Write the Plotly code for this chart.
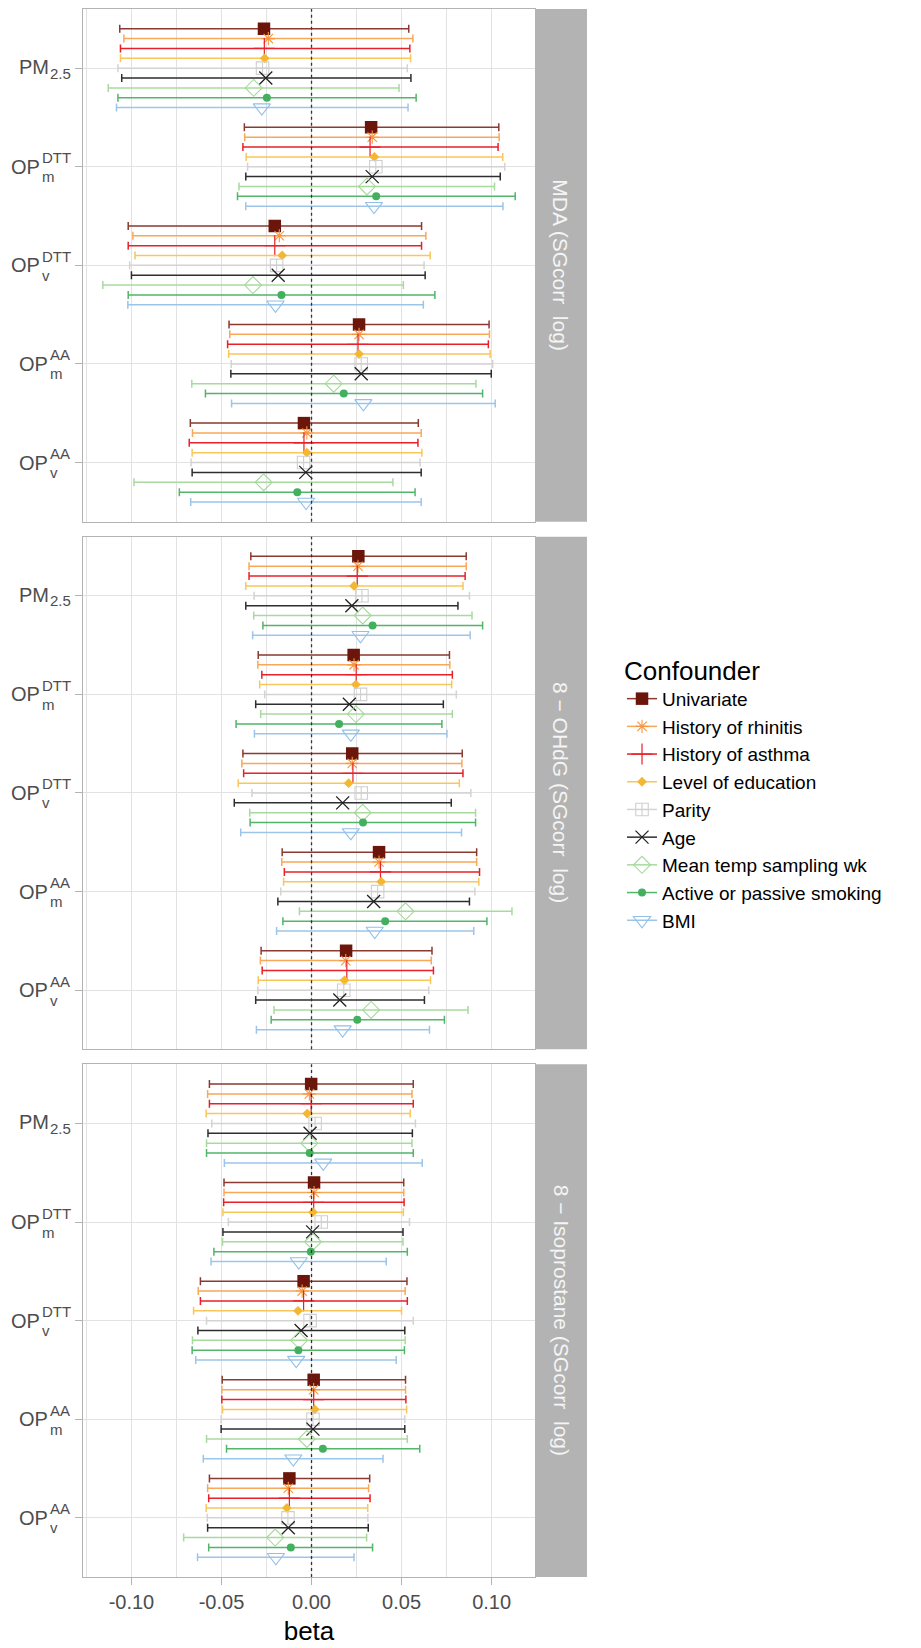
import plotly.graph_objects as go

# ---------------- data ----------------
exposures = ["PM2.5", "OPm DTT", "OPv DTT", "OPm AA", "OPv AA"]
label_main = ["PM", "OP", "OP", "OP", "OP"]
label_sub = ["2.5", "m", "v", "m", "v"]
label_sup = ["", "DTT", "DTT", "AA", "AA"]
outcomes = ["MDA (SGcorr\u00a0\u00a0log)",
            "8 \u2212 OHdG (SGcorr\u00a0\u00a0log)",
            "8 \u2212 Isoprostane (SGcorr\u00a0\u00a0log)"]
confounders = ["Univariate", "History of rhinitis", "History of asthma",
               "Level of education", "Parity", "Age",
               "Mean temp sampling wk", "Active or passive smoking", "BMI"]
x_tickvals = [-0.10, -0.05, 0.0, 0.05, 0.10]
x_ticktext = ["-0.10", "-0.05", "0.00", "0.05", "0.10"]
x_minor = [-0.125, -0.075, -0.025, 0.025, 0.075, 0.125]

# rows = exposures, columns = confounders
mda_est = [
    [-0.0264, -0.0240, -0.0262, -0.0260, -0.0272, -0.0254, -0.0321, -0.0248, -0.0276],
    [0.0331, 0.0337, 0.0325, 0.0349, 0.0357, 0.0337, 0.0308, 0.0359, 0.0347],
    [-0.0204, -0.0179, -0.0204, -0.0163, -0.0194, -0.0185, -0.0325, -0.0167, -0.0200],
    [0.0264, 0.0264, 0.0258, 0.0264, 0.0276, 0.0276, 0.0123, 0.0179, 0.0288],
    [-0.0042, -0.0026, -0.0042, -0.0026, -0.0044, -0.0032, -0.0266, -0.0079, -0.0030],
]
mda_lo = [
    [-0.1065, -0.1042, -0.1061, -0.1061, -0.1075, -0.1054, -0.1129, -0.1075, -0.1083],
    [-0.0373, -0.0371, -0.0381, -0.0363, -0.0355, -0.0365, -0.0403, -0.0411, -0.0365],
    [-0.1018, -0.0992, -0.1018, -0.0980, -0.1010, -0.1000, -0.1159, -0.1018, -0.1020],
    [-0.0458, -0.0454, -0.0466, -0.0460, -0.0446, -0.0448, -0.0665, -0.0589, -0.0444],
    [-0.0673, -0.0661, -0.0679, -0.0663, -0.0669, -0.0663, -0.0986, -0.0734, -0.0671],
]
mda_hi = [
    [0.0540, 0.0563, 0.0546, 0.0550, 0.0532, 0.0552, 0.0486, 0.0581, 0.0536],
    [0.1040, 0.1042, 0.1036, 0.1062, 0.1073, 0.1048, 0.1016, 0.1131, 0.1063],
    [0.0611, 0.0635, 0.0611, 0.0659, 0.0625, 0.0631, 0.0510, 0.0685, 0.0621],
    [0.0986, 0.0988, 0.0982, 0.0992, 0.1006, 0.0998, 0.0913, 0.0950, 0.1020],
    [0.0593, 0.0609, 0.0591, 0.0613, 0.0603, 0.0609, 0.0452, 0.0575, 0.0609],
]
ohdg_est = [
    [0.0260, 0.0258, 0.0254, 0.0236, 0.0280, 0.0224, 0.0284, 0.0339, 0.0272],
    [0.0234, 0.0236, 0.0248, 0.0246, 0.0272, 0.0210, 0.0246, 0.0153, 0.0218],
    [0.0226, 0.0226, 0.0230, 0.0206, 0.0276, 0.0173, 0.0284, 0.0286, 0.0218],
    [0.0375, 0.0375, 0.0383, 0.0387, 0.0367, 0.0345, 0.0522, 0.0409, 0.0351],
    [0.0192, 0.0190, 0.0196, 0.0183, 0.0179, 0.0157, 0.0331, 0.0254, 0.0173],
]
ohdg_lo = [
    [-0.0337, -0.0347, -0.0347, -0.0365, -0.0319, -0.0365, -0.0321, -0.0270, -0.0327],
    [-0.0296, -0.0298, -0.0276, -0.0288, -0.0260, -0.0310, -0.0282, -0.0419, -0.0317],
    [-0.0381, -0.0387, -0.0377, -0.0407, -0.0331, -0.0429, -0.0343, -0.0341, -0.0393],
    [-0.0163, -0.0165, -0.0151, -0.0155, -0.0171, -0.0187, -0.0067, -0.0159, -0.0194],
    [-0.0280, -0.0284, -0.0274, -0.0296, -0.0298, -0.0310, -0.0208, -0.0224, -0.0306],
]
ohdg_hi = [
    [0.0859, 0.0859, 0.0853, 0.0841, 0.0877, 0.0813, 0.0891, 0.0950, 0.0881],
    [0.0766, 0.0768, 0.0782, 0.0778, 0.0804, 0.0732, 0.0782, 0.0724, 0.0752],
    [0.0837, 0.0835, 0.0841, 0.0821, 0.0885, 0.0776, 0.0911, 0.0911, 0.0833],
    [0.0917, 0.0917, 0.0933, 0.0929, 0.0907, 0.0877, 0.1113, 0.0974, 0.0901],
    [0.0669, 0.0665, 0.0677, 0.0661, 0.0651, 0.0627, 0.0869, 0.0738, 0.0655],
]
iso_est = [
    [-0.0002, -0.0012, -0.0002, -0.0024, 0.0020, -0.0008, -0.0012, -0.0010, 0.0065],
    [0.0014, 0.0014, 0.0012, 0.0008, 0.0054, 0.0006, 0.0008, -0.0004, -0.0071],
    [-0.0044, -0.0052, -0.0044, -0.0075, -0.0008, -0.0058, -0.0069, -0.0073, -0.0085],
    [0.0012, 0.0012, 0.0012, 0.0018, 0.0008, 0.0008, -0.0026, 0.0063, -0.0101],
    [-0.0123, -0.0129, -0.0123, -0.0137, -0.0131, -0.0129, -0.0202, -0.0115, -0.0198],
]
iso_lo = [
    [-0.0567, -0.0577, -0.0567, -0.0585, -0.0554, -0.0575, -0.0583, -0.0583, -0.0484],
    [-0.0486, -0.0486, -0.0488, -0.0492, -0.0462, -0.0492, -0.0494, -0.0542, -0.0558],
    [-0.0617, -0.0629, -0.0617, -0.0655, -0.0583, -0.0631, -0.0661, -0.0663, -0.0643],
    [-0.0496, -0.0498, -0.0498, -0.0494, -0.0502, -0.0502, -0.0583, -0.0472, -0.0601],
    [-0.0567, -0.0577, -0.0571, -0.0585, -0.0579, -0.0577, -0.0710, -0.0571, -0.0633],
]
iso_hi = [
    [0.0565, 0.0558, 0.0565, 0.0548, 0.0577, 0.0560, 0.0558, 0.0565, 0.0615],
    [0.0512, 0.0512, 0.0514, 0.0510, 0.0544, 0.0508, 0.0508, 0.0532, 0.0415],
    [0.0530, 0.0520, 0.0532, 0.0500, 0.0565, 0.0518, 0.0520, 0.0516, 0.0470],
    [0.0522, 0.0522, 0.0524, 0.0528, 0.0518, 0.0518, 0.0532, 0.0601, 0.0397],
    [0.0323, 0.0317, 0.0325, 0.0312, 0.0313, 0.0315, 0.0306, 0.0339, 0.0236],
]

panels = [(mda_est, mda_lo, mda_hi), (ohdg_est, ohdg_lo, ohdg_hi), (iso_est, iso_lo, iso_hi)]

# ---------------- styles ----------------
styles = {
    "Univariate": dict(symbol="square", size=12.5, color="#6B150B", bar="#8A3A30", lw=0),
    "History of rhinitis": dict(symbol="asterisk-open", size=11, color="#F7963E", bar="#F8A858", lw=1.1),
    "History of asthma": dict(symbol="cross-thin-open", size=15, color="#E8202A", bar="#E8202A", lw=1.2),
    "Level of education": dict(symbol="diamond", size=7.5, color="#F4B731", bar="#F9C65A", lw=0),
    "Parity": dict(symbol="square-cross-open", size=12.5, color="#CFCFCF", bar="#D3D3D3", lw=1.1),
    "Age": dict(symbol="x-thin-open", size=13, color="#222222", bar="#2E2E2E", lw=1.3),
    "Mean temp sampling wk": dict(symbol="diamond-open", size=13, color="#A4D99A", bar="#A8DA9E", lw=1.1),
    "Active or passive smoking": dict(symbol="circle", size=8, color="#43B05E", bar="#52B56A", lw=0),
    "BMI": dict(symbol="triangle-down-open", size=15, color="#92C0E8", bar="#9CC5E9", lw=1.1),
}

fig = go.Figure()
n_exp = len(exposures)
axis_suffix = ["", "2", "3"]

for p, (est, lo, hi) in enumerate(panels):
    for k, conf in enumerate(confounders):
        st = styles[conf]
        xs, ys, ep, em = [], [], [], []
        for i in range(n_exp):
            cat = n_exp - i
            e = est[i][k]
            xs += [e, None]
            ys += [cat + 0.4 - 0.1 * k, None]
            ep += [hi[i][k] - e, 0]
            em += [e - lo[i][k], 0]
        fig.add_trace(go.Scatter(
            x=xs, y=ys, mode="lines+markers", connectgaps=False,
            name=conf, legendgroup=conf, showlegend=(p == 0),
            line=dict(color=st["bar"], width=1.5),
            marker=dict(symbol=st["symbol"], size=st["size"], color=st["color"],
                        line=dict(color=st["color"], width=st["lw"])),
            error_x=dict(type="data", symmetric=False, array=ep, arrayminus=em,
                         color=st["bar"], thickness=1.5, width=4),
            xaxis="x" + axis_suffix[p], yaxis="y" + axis_suffix[p],
        ))

# ---------------- layout ----------------
grid_c = "#E2E2E2"
border_c = "#B3B3B3"
domains = [[0.67302, 1.0], [0.33651, 0.66349], [0.0, 0.32698]]

layout = dict(
    width=921, height=1648,
    margin=dict(l=83, r=386, t=8, b=65),
    paper_bgcolor="white", plot_bgcolor="white",
    font=dict(family="Liberation Sans, Arial, sans-serif", color="#4D4D4D"),
    showlegend=True,
    legend=dict(
        title=dict(text="Confounder", font=dict(size=26, color="black")),
        font=dict(size=19, color="black"),
        x=1.1925, xanchor="left", y=0.5, yanchor="middle",
        bgcolor="rgba(0,0,0,0)", traceorder="normal",
    ),
)

for p in range(3):
    s = axis_suffix[p]
    last = (p == 2)
    xa = dict(
        domain=[0, 1], anchor="y" + s, range=[-0.1269, 0.1241],
        tickvals=x_tickvals, ticktext=x_ticktext,
        showticklabels=last, ticks="outside" if last else "",
        ticklen=7, tickwidth=1, tickcolor=border_c,
        tickfont=dict(size=20, color="#4D4D4D"),
        showgrid=True, gridcolor=grid_c, gridwidth=1.2,
        minor=dict(tickvals=x_minor, showgrid=True, gridcolor=grid_c, gridwidth=0.7, ticks=""),
        zeroline=False, showline=True, mirror=True, linecolor=border_c, linewidth=1,
    )
    if p > 0:
        xa["matches"] = "x"
    if last:
        xa["title"] = dict(text="beta", font=dict(size=26, color="black"), standoff=9)
    ya = dict(
        domain=domains[p], anchor="x" + s, range=[0.4, 5.6],
        tickvals=[1, 2, 3, 4, 5], showticklabels=False,
        ticks="outside", ticklen=7, tickwidth=1, tickcolor=border_c,
        showgrid=True, gridcolor=grid_c, gridwidth=1.2,
        zeroline=False, showline=True, mirror=True, linecolor=border_c, linewidth=1,
    )
    layout["xaxis" + s] = xa
    layout["yaxis" + s] = ya

fig.update_layout(**layout)

shapes = []
annotations = []
for p in range(3):
    s = axis_suffix[p]
    # strip
    shapes.append(dict(type="rect", xref="paper", yref="y" + s + " domain",
                       x0=1.0, x1=1.1150, y0=0, y1=1,
                       fillcolor="#B3B3B3", line=dict(width=0), layer="above"))
    annotations.append(dict(text=outcomes[p], xref="paper", yref="y" + s + " domain",
                            x=1.0575, y=0.5, textangle=90, showarrow=False,
                            font=dict(size=21, color="#F5F5F5"),
                            xanchor="center", yanchor="middle"))
    # zero line
    shapes.append(dict(type="line", xref="x" + s, yref="y" + s + " domain",
                       x0=0, x1=0, y0=0, y1=1,
                       line=dict(color="#333333", width=1.3, dash="dot"), layer="above"))
    # y labels
    for i in range(n_exp):
        cat = n_exp - i
        if label_sup[i] == "":
            # PM2.5: inline subscript
            split_px = 48.0
            annotations.append(dict(text=label_main[i], xref="paper", yref="y" + s,
                                    x=0, xshift=split_px + 3 - 83, y=cat, yshift=1,
                                    xanchor="right", yanchor="middle", showarrow=False,
                                    font=dict(size=20, color="#4D4D4D")))
            annotations.append(dict(text=label_sub[i], xref="paper", yref="y" + s,
                                    x=0, xshift=split_px - 83, y=cat, yshift=-5,
                                    xanchor="left", yanchor="middle", showarrow=False,
                                    font=dict(size=15, color="#4D4D4D")))
        else:
            split_px = 40.0 if label_sup[i] == "DTT" else 48.0
            annotations.append(dict(text=label_main[i], xref="paper", yref="y" + s,
                                    x=0, xshift=split_px + 2 - 83, y=cat, yshift=0,
                                    xanchor="right", yanchor="middle", showarrow=False,
                                    font=dict(size=20, color="#4D4D4D")))
            annotations.append(dict(text=label_sup[i], xref="paper", yref="y" + s,
                                    x=0, xshift=split_px - 83, y=cat, yshift=9,
                                    xanchor="left", yanchor="middle", showarrow=False,
                                    font=dict(size=15, color="#4D4D4D")))
            annotations.append(dict(text=label_sub[i], xref="paper", yref="y" + s,
                                    x=0, xshift=split_px - 83, y=cat, yshift=-10,
                                    xanchor="left", yanchor="middle", showarrow=False,
                                    font=dict(size=15, color="#4D4D4D")))

fig.update_layout(shapes=shapes, annotations=annotations)
fig.write_html("out.html", config={"displayModeBar": False},
               post_script="document.body.style.margin='0';")
